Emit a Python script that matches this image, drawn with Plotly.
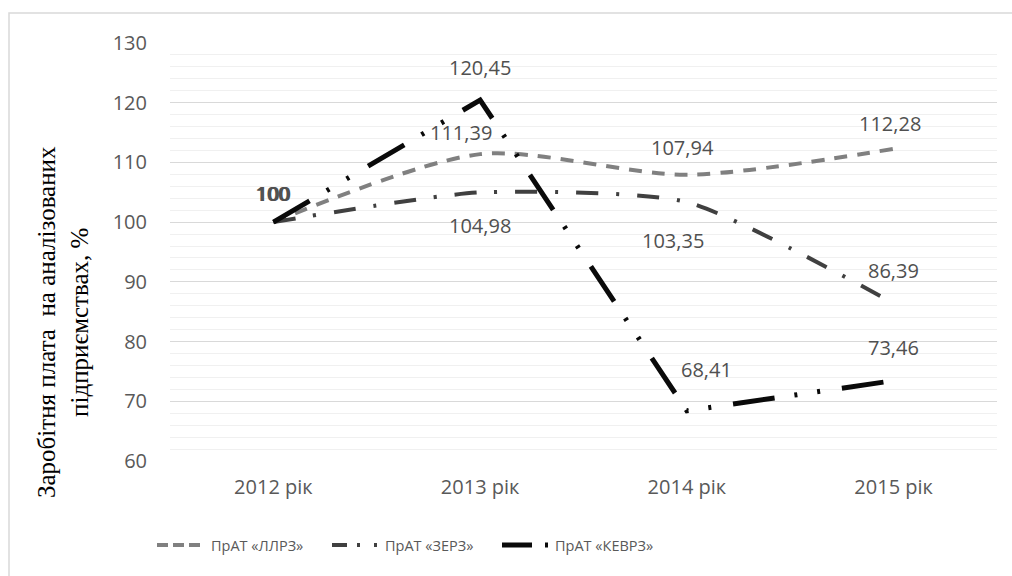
import plotly.graph_objects as go

# Categories and series values (index, 2012 = 100)
years = ["2012 рік", "2013 рік", "2014 рік", "2015 рік"]
series_names = ["ПрАТ «ЛЛРЗ»", "ПрАТ «ЗЕРЗ»", "ПрАТ «КЕВРЗ»"]
llrz = [100, 111.39, 107.94, 112.28]
zerz = [100, 104.98, 103.35, 86.39]
kevrz = [100, 120.45, 68.41, 73.46]
y_ticks = [60, 70, 80, 90, 100, 110, 120, 130]

# Plot-area geometry in pixels
W, H = 1012, 576
L, R, T, B = 170, 15, 43, 115
PW, PH = W - L - R, H - T - B


def px_x(x):
    return (x - L) / PW


def px_y(y):
    return (H - B - y) / PH


def fmt(v):
    return f"{v:g}".replace(".", ",")


styles = [
    dict(color="#808080", width=4, dash="13px,10px", shape="spline", smoothing=0.8,
         legend_dash="11px,5px", legend_x=(157, 200), text_x=209),
    dict(color="#404040", width=4, dash="22px,18px,3px,18px", shape="spline", smoothing=0.6,
         legend_dash="15px,10px,3px,14px,3px", legend_x=(332, 380), text_x=383),
    dict(color="#0a0a0a", width=5, dash="42px,20px,3px,20px,3px,22px", shape="linear", smoothing=0,
         legend_dash="30px,13px,3px", legend_x=(502, 548), text_x=553),
]

# label offsets (xshift, yshift) per point
label_offsets = [
    [(1, 29), (-19, 22), (-4, 27), (-4, 25)],
    [(-1, 29), (0, -33), (-14, -38), (0, 33)],
    [(0, 29), (0, 33), (20, 41), (0, 33)],
]

fig = go.Figure()
annotations = []
shapes = []

for name, vals, st, offs in zip(series_names, [llrz, zerz, kevrz], styles, label_offsets):
    fig.add_trace(go.Scatter(
        x=years, y=vals, name=name, mode="lines",
        line=dict(color=st["color"], width=st["width"], dash=st["dash"],
                  shape=st["shape"], smoothing=st["smoothing"] if st["smoothing"] else None),
        showlegend=False, hoverinfo="x+y+name",
    ))
    for yr, v, (dx, dy) in zip(years, vals, offs):
        annotations.append(dict(
            x=yr, y=v, xref="x", yref="y", text=fmt(v), showarrow=False,
            xshift=dx, yshift=dy,
            font=dict(family="Open Sans", size=20, color="#505050"),
        ))
    # legend entry
    x0, x1 = st["legend_x"]
    shapes.append(dict(
        type="line", xref="paper", yref="paper",
        x0=px_x(x0), x1=px_x(x1), y0=px_y(545), y1=px_y(545),
        line=dict(color=st["color"], width=st["width"], dash=st["legend_dash"]),
    ))
    annotations.append(dict(
        x=px_x(st["text_x"]), y=px_y(545), xref="paper", yref="paper",
        xanchor="left", yanchor="middle", text=name, showarrow=False,
        font=dict(family="Open Sans", size=14.5, color="#595959"),
    ))

# y-axis title
annotations.append(dict(
    x=px_x(63), y=px_y(322), xref="paper", yref="paper",
    text="Заробітня плата  на аналізованих<br>підприємствах, %",
    textangle=-90, showarrow=False, xanchor="center", yanchor="middle",
    font=dict(family="Liberation Serif, Times New Roman, serif", size=25, color="#000000"),
))

# chart-area frame
shapes.append(dict(
    type="rect", xref="paper", yref="paper", layer="below",
    x0=px_x(9), x1=px_x(1020), y0=px_y(585), y1=px_y(13),
    line=dict(color="#d9d9d9", width=1.5), fillcolor="rgba(0,0,0,0)",
))

fig.update_layout(
    width=W, height=H,
    margin=dict(l=L, r=R, t=T, b=B),
    paper_bgcolor="white", plot_bgcolor="white",
    showlegend=False,
    annotations=annotations,
    shapes=shapes,
    xaxis=dict(
        type="category", range=[-0.5, 3.5], showgrid=False, zeroline=False,
        showline=False, ticks="", ticklabelstandoff=12,
        tickfont=dict(family="Open Sans", size=20, color="#595959"),
    ),
    yaxis=dict(
        range=[60, 130], tickvals=y_ticks, showgrid=True,
        gridcolor="#d9d9d9", gridwidth=1.3, zeroline=False, showline=False,
        ticks="", ticklabelstandoff=22,
        minor=dict(dtick=2, showgrid=True, gridcolor="#f0f0f0", gridwidth=1.3),
        tickfont=dict(family="Open Sans", size=20, color="#595959"),
    ),
)

fig.write_html("out.html")
